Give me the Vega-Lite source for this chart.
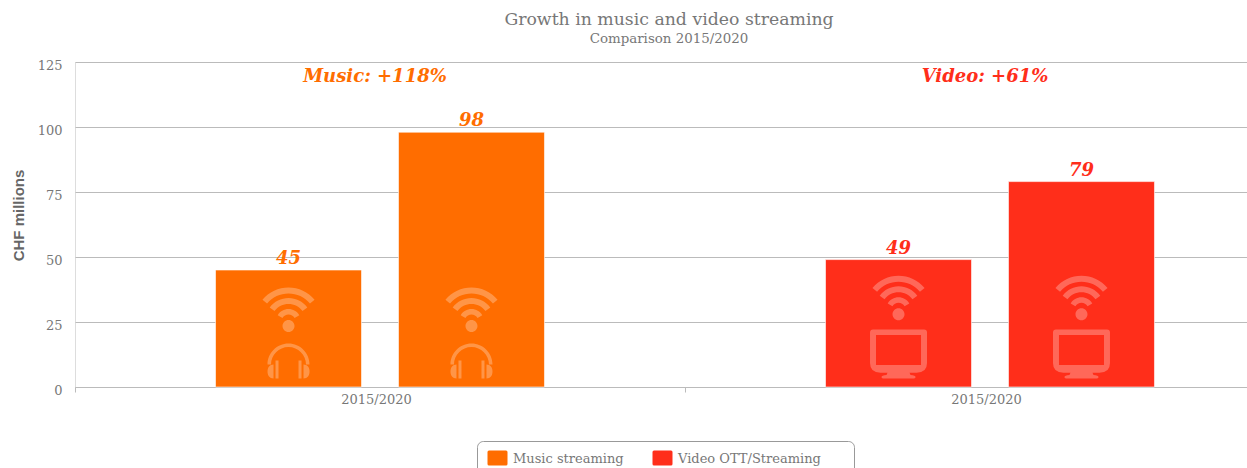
{
  "$schema": "https://vega.github.io/schema/vega-lite/v6.json",
  "width": 1220,
  "height": 325,
  "autosize": {"type": "none"},
  "padding": {"left": 75, "top": 62, "right": 0, "bottom": 90},
  "background": "white",
  "title": {
    "text": "Growth in music and video streaming",
    "subtitle": "Comparison 2015/2020",
    "frame": "group",
    "anchor": "middle",
    "dx": -16,
    "offset": 14,
    "font": "DejaVu Serif",
    "fontSize": 17.3,
    "fontWeight": "normal",
    "color": "#777777",
    "subtitleFont": "DejaVu Serif",
    "subtitleFontSize": 13.4,
    "subtitleColor": "#777777",
    "subtitlePadding": 3
  },
  "datasets": {
    "bars": [
      {"service": "Music streaming", "year": "2015", "chf": 45},
      {"service": "Music streaming", "year": "2020", "chf": 98},
      {"service": "Video OTT/Streaming", "year": "2015", "chf": 49},
      {"service": "Video OTT/Streaming", "year": "2020", "chf": 79}
    ],
    "icons": [
      {"service": "Music streaming", "year": "2015", "icon": "wifi", "level": 29.8},
      {"service": "Music streaming", "year": "2020", "icon": "wifi", "level": 29.8},
      {"service": "Music streaming", "year": "2015", "icon": "headphones", "level": 11},
      {"service": "Music streaming", "year": "2020", "icon": "headphones", "level": 11},
      {"service": "Video OTT/Streaming", "year": "2015", "icon": "wifi", "level": 34.3},
      {"service": "Video OTT/Streaming", "year": "2020", "icon": "wifi", "level": 34.3},
      {"service": "Video OTT/Streaming", "year": "2015", "icon": "monitor", "level": 12.7},
      {"service": "Video OTT/Streaming", "year": "2020", "icon": "monitor", "level": 12.7}
    ],
    "growth": [
      {"service": "Music streaming", "label": "Music: +118%", "level": 119.3},
      {"service": "Video OTT/Streaming", "label": "Video: +61%", "level": 119.3}
    ]
  },
  "encoding": {
    "x": {
      "field": "service",
      "type": "nominal",
      "sort": null,
      "scale": {"paddingInner": 0, "paddingOuter": 0},
      "axis": {
        "title": null,
        "labelExpr": "datum.label ? '2015/2020' : ''",
        "labelAngle": 0,
        "labelFont": "DejaVu Serif",
        "labelFontSize": 13,
        "labelColor": "#777777",
        "labelOffset": -4,
        "labelPadding": 1,
        "tickBand": "extent",
        "tickColor": "#bbbbbb",
        "tickSize": 5,
        "domainColor": "#bbbbbb",
        "grid": false
      }
    },
    "y": {
      "type": "quantitative",
      "scale": {"domain": [0, 125], "nice": false},
      "axis": {
        "title": "CHF millions",
        "titleFont": "Liberation Sans",
        "titleFontSize": 15,
        "titleFontWeight": "bold",
        "titleColor": "#666666",
        "titlePadding": 11,
        "titleY": 153,
        "values": [0, 25, 50, 75, 100, 125],
        "labelFont": "DejaVu Serif",
        "labelFontSize": 13,
        "labelColor": "#777777",
        "labelOffset": 3,
        "labelPadding": 13,
        "ticks": false,
        "domain": false,
        "grid": true,
        "gridColor": "#bbbbbb",
        "gridWidth": 1
      }
    }
  },
  "layer": [
    {
      "data": {"name": "bars"},
      "mark": {"type": "bar", "stroke": "white", "strokeWidth": 1, "strokeOpacity": 0.6},
      "encoding": {
        "y": {"field": "chf"},
        "xOffset": {
          "field": "year",
          "type": "nominal",
          "scale": {"domain": ["2015", "2020"], "paddingInner": 0.202, "paddingOuter": 0.768}
        },
        "color": {
          "field": "service",
          "type": "nominal",
          "scale": {
            "domain": ["Music streaming", "Video OTT/Streaming"],
            "range": ["#ff6d00", "#ff2e1a"]
          },
          "legend": {
            "title": null,
            "orient": "none",
            "legendX": 402,
            "legendY": 379,
            "direction": "horizontal",
            "columns": 2,
            "columnPadding": 26,
            "padding": 8,
            "strokeColor": "#999999",
            "cornerRadius": 6,
            "symbolType": "M-0.6 -0.85H1.1Q1.25 -0.85 1.25 -0.7V0.5Q1.25 0.65 1.1 0.65H-0.6Q-0.75 0.65 -0.75 0.5V-0.7Q-0.75 -0.85 -0.6 -0.85Z",
            "symbolSize": 400,
            "symbolStrokeWidth": 0,
            "labelFont": "DejaVu Serif",
            "labelFontSize": 13,
            "labelColor": "#777777",
            "labelOffset": 8,
            "labelLimit": 300,
            "labelExpr": "datum.label == 'Video OTT/Streaming' ? datum.label + '\u00a0\u00a0\u00a0\u00a0\u00a0\u00a0\u200b' : datum.label"
          }
        }
      }
    },
    {
      "data": {"name": "icons"},
      "mark": {"type": "point", "filled": true, "size": 4, "fill": "white", "fillOpacity": 0.28, "strokeWidth": 0},
      "encoding": {
        "y": {"field": "level"},
        "xOffset": {"field": "year", "type": "nominal"},
        "shape": {
          "field": "icon",
          "type": "nominal",
          "legend": null,
          "scale": {
            "domain": ["wifi", "headphones", "monitor"],
            "range": [
              "M-26.05 -9.85A34 34 0 0 1 26.05 -9.85L21.45 -6A28 28 0 0 0 -21.45 -6ZM-18.8 -2.1A23.5 23.5 0 0 1 18.8 -2.1L14 1.5A17.5 17.5 0 0 0 -14 1.5ZM-10.8 5.75A12.5 12.5 0 0 1 10.8 5.75L6.06 8.5A7 7 0 0 0 -6.06 8.5ZM-6 16.5A6 6 0 1 0 6 16.5A6 6 0 1 0 -6 16.5Z",
              "M-21 6A21 21 0 0 1 21 6L17.5 6A17.5 17.5 0 0 0 -17.5 6ZM-15 6V20C-19 20 -21 17 -21 13C-21 9 -19 6 -15 6ZM15 6V20C19 20 21 17 21 13C21 9 19 6 15 6ZM-13 2H-10V20H-13ZM10 2H13V20H10Z",
              "M-25.5 -24.5H25.5Q28.5 -24.5 28.5 -21.5V9Q28.5 18.7 18 18.7H-18Q-28.5 18.7 -28.5 9V-21.5Q-28.5 -24.5 -25.5 -24.5ZM-22.5 -19V11H22.5V-19ZM-11 18.7H11L12 21Q17 21.5 17 23Q17 24.5 14 24.5H-14Q-17 24.5 -17 23Q-17 21.5 -12 21Z"
            ]
          }
        }
      }
    },
    {
      "data": {"name": "bars"},
      "mark": {
        "type": "text",
        "baseline": "bottom",
        "dy": -2,
        "font": "DejaVu Serif",
        "fontSize": 18,
        "fontWeight": "bold",
        "fontStyle": "italic"
      },
      "encoding": {
        "y": {"field": "chf"},
        "xOffset": {"field": "year", "type": "nominal"},
        "text": {"field": "chf", "type": "quantitative"},
        "color": {"field": "service", "type": "nominal"}
      }
    },
    {
      "data": {"name": "growth"},
      "mark": {
        "type": "text",
        "baseline": "middle",
        "dx": -5,
        "font": "DejaVu Serif",
        "fontSize": 18,
        "fontWeight": "bold",
        "fontStyle": "italic"
      },
      "encoding": {
        "y": {"field": "level"},
        "text": {"field": "label", "type": "nominal"},
        "color": {"field": "service", "type": "nominal"}
      }
    }
  ]
}
